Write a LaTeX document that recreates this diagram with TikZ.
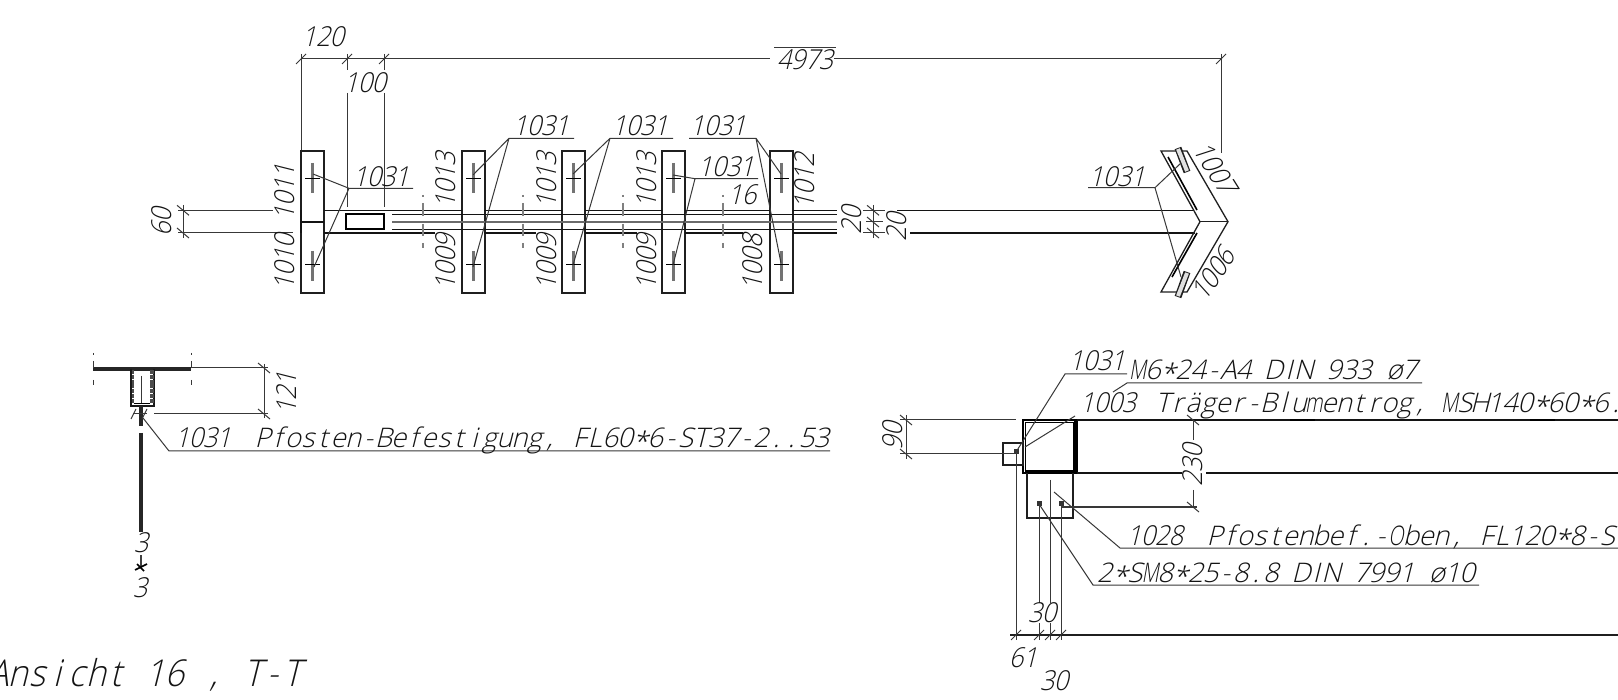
\documentclass[tikz,border=0pt]{standalone}
\usepackage{graphicx}
\usepackage{fontspec}
\newfontfamily\cad{Open Sans Light}[FakeSlant=0.25,FakeStretch=0.92]
\newfontfamily\cadw{Open Sans Light}[FakeSlant=0.25,FakeStretch=1.02]
\makeatletter
\newcommand\mon[2]{\@tfor\mych:=#2\do{\makebox[#1]{\mych}}}
\makeatother
\newcommand\st{\raisebox{-4pt}{*}}
\newcommand\nM{\scalebox{0.72}[1]{M}}
\newcommand\nO{\scalebox{0.72}[1]{O}}
\newcommand\nm{\scalebox{0.72}[1]{m}}
\newcommand\dg[1]{\mon{13.9pt}{#1}}
\newcommand\lt[1]{\mon{15.1pt}{#1}}
\tikzset{
  thin line/.style={line width=1pt,draw=black!78},
  beam line/.style={line width=1.3pt,draw=black!92},
  heavy line/.style={line width=2.6pt,draw=black!92},
  breakmark/.style={line width=2.6pt,draw=black!50},
  slotbar/.style={line width=3.4pt,draw=black!55},
  txt/.style={inner sep=0pt,text=black!92,font=\cad\fontsize{27.5}{27.5}\selectfont},
  longtxt/.style={inner sep=0pt,anchor=base west,text=black!92,font=\cadw\fontsize{27}{27}\selectfont},
  bigtxt/.style={inner sep=0pt,anchor=base west,text=black!92,font=\cad\fontsize{37}{37}\selectfont},
}
\newcommand\tkh[2]{\draw[thin line] (#1-5,#2+5)--(#1+5,#2-5);}
\newcommand\tkv[2]{\draw[thin line] (#1-6,#2-5)--(#1+6,#2+5);}
\begin{document}
\begin{tikzpicture}[x=1pt,y=-1pt]
\useasboundingbox (0,0) rectangle (1618,700);
\fill[white] (0,0) rectangle (1618,700);

%% ---- top dimension chain
\draw[thin line] (301,59)--(770,59) (834,59)--(1221,59);
\draw[thin line] (774,47.5)--(836,47.5);
\tkh{301}{59}\tkh{347}{59}\tkh{384}{59}\tkh{1221}{59}
\draw[thin line] (301,54)--(301,151);
\draw[thin line] (347,54)--(347,70) (347,93)--(347,207);
\draw[thin line] (384,54)--(384,70) (384,93)--(384,207);
\draw[thin line] (1221,54)--(1221,153);
\node[txt] (d120) at (323,37) {\dg{120}};
\node[txt] (d100) at (365,83) {\dg{100}};
\node[txt] (d4973) at (805,60) {\dg{4973}};

%% ---- plates
\foreach \px in {301,462,562,662,770}{
  \draw[line width=1.3pt,draw=black!88] (\px,151) rectangle (\px+23,293);
  \draw[heavy line] (\px,222)--(\px+23,222);
  \draw[slotbar] (\px+11.5,163)--(\px+11.5,193);
  \draw[slotbar] (\px+11.5,251)--(\px+11.5,281);
  \draw[thin line,draw=black] (\px+4,179)--(\px+19,179) (\px+4,265)--(\px+19,265);
}
\draw[heavy line] (301,210)--(301,233);

%% ---- beam
\foreach \a/\b in {324/462,484/562,585/662,685/770,793/837}{
  \draw[beam line] (\a,210.3)--(\b,210.3);
}
\foreach \a/\b in {324/435,484/536,585/637,685/743,793/837}{
  \draw[beam line] (\a,233)--(\b,233);
}
\draw[beam line] (392,214.3)--(837,214.3) (392,229.3)--(837,229.3);
\draw[line width=1.2pt,draw=black!58] (392,222)--(837,222);
\draw[line width=1.8pt,draw=black] (346,214)rectangle(384,229.3);
\foreach \bx in {423,523,623,723}{
  \draw[breakmark] (\bx,195)--(\bx,197) (\bx,203)--(\bx,216) (\bx,224)--(\bx,236) (\bx,243)--(\bx,248);
}
%% ---- dim 60
\draw[thin line] (183,205)--(183,238);
\tkv{183}{210.3}\tkv{183}{233}
\draw[thin line] (178,210.3)--(273,210.3) (178,233)--(293,233);
\node[txt,rotate=90] (d60) at (162,222) {\dg{60}};
%% ---- dim 20/20
\node[txt,rotate=90] (d20a) at (852,220) {\dg{20}};
\node[txt,rotate=90] (d20b) at (897,227) {\dg{20}};
\draw[thin line] (873,205)--(873,238);
\tkv{873}{210.3}\tkv{873}{222}\tkv{873}{233}
\draw[thin line] (863,210.3)--(885,210.3) (863,233)--(885,233) (866,222)--(883,222);
\draw[beam line] (897,210.3)--(1193,210.3) (910,233)--(1195,233);

%% ---- plate labels
\node[txt,rotate=90] (p1011) at (285,192) {\dg{1011}};
\node[txt,rotate=90] (p1010) at (285,262) {\dg{1010}};
\foreach \lx in {446,547,647}{
  \node[txt,rotate=90] at (\lx,180) {\dg{1013}};
  \node[txt,rotate=90] at (\lx,262) {\dg{1009}};
}
\node[txt,rotate=90] (p1008) at (753,262) {\dg{1008}};
\node[txt,rotate=90] (p1012) at (805,181) {\dg{1012}};
\node[txt] (n16) at (742,195) {\dg{16}};

%% ---- 1031 leaders, top view
\draw[thin line] (413,188.3)--(349,188.3)--(313,174) (349,188.3)--(314,267);
\node[txt] (a1) at (381,177) {\dg{1031}};
\draw[thin line] (574,138.3)--(509,138.3)--(473,175) (509,138.3)--(473,267);
\node[txt] (a2) at (541,126) {\dg{1031}};
\draw[thin line] (673,138.3)--(610,138.3)--(573,174) (610,138.3)--(573,265);
\node[txt] (a3) at (640,126) {\dg{1031}};
\draw[thin line] (689,138.3)--(756,138.3)--(781,174) (756,138.3)--(781,263);
\node[txt] (a4) at (718,126) {\dg{1031}};
\draw[thin line] (758,178.7)--(695,178.7)--(673,175) (695,178.7)--(673,265);
\node[txt] (a5) at (726,167) {\dg{1031}};

%% ---- corner (right end of top view)
\draw[line width=1.3pt,draw=black!88] (1161,151)--(1187,151)--(1228,221.7)--(1187,292)--(1161,292)--(1200,221.7)--cycle;
\draw[line width=1.3pt,draw=black!88] (1200,221.7)--(1228,221.7);
\draw[line width=1.6pt,draw=black] (1168,157)--(1197,210) (1197,233)--(1172,277);
\draw[line width=7pt,draw=black!88] (1178,148)--(1187,172);
\draw[line width=4pt,draw=black!12] (1178,149)--(1187,171);
\draw[line width=7pt,draw=black!88] (1187,272)--(1178,297);
\draw[line width=4pt,draw=black!12] (1187,273)--(1178,296);
\draw[thin line] (1088,187.7)--(1155,187.7)--(1181,163) (1155,187.7)--(1181,277);
\node[txt] (a6) at (1117,177) {\dg{1031}};
\node[txt,rotate=-58] (p1007) at (1215,168) {\dg{1007}};
\node[txt,rotate=56] (p1006) at (1213,274) {\dg{1006}};

%% ---- left section
\draw[line width=3.4pt,draw=black!85] (93,369)--(191,369);
\foreach \mx in {93,191}{
  \draw[thin line] (\mx,353)--(\mx,355) (\mx,361)--(\mx,368) (\mx,380)--(\mx,385);
}
\draw[line width=1.3pt,draw=black!90] (131,369)--(131,406)--(154,406)--(154,369);
\draw[line width=2.8pt,draw=black!70,dash pattern=on 4pt off 0.8pt] (133,370)--(133,403);
\draw[line width=3.2pt,draw=black!70,dash pattern=on 4pt off 0.8pt] (152,370)--(152,403);
\draw[line width=1.8pt,draw=black] (134,403.5)--(150,403.5);
\draw[thin line] (141,376)--(141,403);
\draw[line width=3.6pt,draw=black!85] (141,406)--(141,426) (141,433)--(141,532);
\draw[thin line] (133,414)--(147,414);
\draw[thin line] (136,409)--(131,419) (147,409)--(142,419);
\draw[thin line] (191,368)--(268,368) (154,414)--(268,414) (264,364)--(264,418);
\tkv{264}{368}\tkv{264}{414}
\node[txt,rotate=90] (d121) at (287,393) {\dg{121}};
\draw[line width=2pt,draw=black!75] (141,555)--(141,566);
\draw[line width=1.6pt,draw=black] (135,570)--(147,564);
\draw[line width=1.6pt,draw=black] (137,564)--(144,571);
\node[txt] (d3a) at (141,543) {\dg{3}};
\node[txt] (d3b) at (140,588) {\dg{3}};
\draw[thin line] (143,418)--(169,451)--(830,451);
\node[txt,anchor=base west] (t1a) at (175,448) {\dg{1031}};
\node[longtxt] (t1b) at (255,448) {\lt{Pfosten-Befestigung,~FL60\st6-ST37-2..53}};

%% ---- right section
\draw[line width=2.2pt,draw=black] (1023,420) rectangle (1077,473);
\draw[line width=1.8pt,draw=black] (1025.5,422.5) rectangle (1073.5,471);
\draw[line width=2.6pt,draw=black] (1075,420)--(1075,473);
\draw[line width=1.2pt,draw=black!88] (1003,443) rectangle (1023,465);
\draw[line width=1.2pt,draw=black!88] (1027,473)--(1027,518)--(1073,518)--(1073,473);
\draw[beam line] (1077,420)--(1618,420);
\draw[beam line] (1077,473)--(1182,473) (1206,473)--(1618,473);
\draw[line width=2pt,draw=black] (1290,420)--(1315,420) (1530,420)--(1555,420);
%% dim 90
\draw[thin line] (906,415)--(906,459);
\tkv{906}{420}\tkv{906}{454}
\draw[thin line] (900,420)--(1016,420) (900,454)--(1016,454);
\node[txt,rotate=90] (d90) at (893,436) {\dg{90}};
%% bolts
\foreach \bx/\by in {1016/452,1039/504,1061/504}{
  \fill[black!80] (\bx-2.5,\by-2.5) rectangle (\bx+2.5,\by+2.5);
}
%% verticals and lower dim
\draw[thin line] (1016,452)--(1016,640);
\draw[thin line] (1039,504)--(1039,603) (1039,623)--(1039,640);
\draw[thin line] (1050,480)--(1050,603) (1050,623)--(1050,640);
\draw[thin line] (1061,504)--(1061,640);
\draw[line width=1.1pt,draw=black!88] (1010,635)--(1618,635);
\tkh{1016}{635}\tkh{1039}{635}\tkh{1050}{635}\tkh{1061}{635}
\node[txt] (d30a) at (1042,613) {\dg{30}};
\node[txt] (d61) at (1023,658) {\dg{61}};
\node[txt] (d30b) at (1054,681) {\dg{30}};
%% dim 230
\draw[thin line] (1193,420)--(1193,440) (1193,490)--(1193,507);
\tkv{1193}{420}\tkv{1193}{507}
\draw[thin line] (1062,507)--(1197,507);
\node[txt,rotate=90] (d230) at (1193,465) {\dg{230}};
%% leaders
\draw[thin line] (1016,452)--(1065,374)--(1127,374);
\node[txt,anchor=base west] (n1031) at (1069,371) {\dg{1031}};
\draw[thin line] (1025,447)--(1075,416) (1113,392)--(1127,383)--(1422,383);
\node[longtxt] (t2) at (1130,380) {\lt{\nM6\st24-A4~DIN~933~ø7}};
\node[txt,anchor=base west] (n1003) at (1080,413) {\dg{1003}};
\node[longtxt] (t3) at (1155,413) {\lt{Träger-Blu\nm entrog,~\nM SH140\st60\st6.}};
\draw[thin line] (1054,492)--(1120,548)--(1618,548);
\node[txt,anchor=base west] (n1028) at (1127,545) {\dg{1028}};
\node[longtxt] (t4) at (1207,545) {\lt{Pfostenbef.-\nO ben,~FL120\st8-S}};
\draw[thin line] (1039,504)--(1093,585)--(1479,585);
\node[longtxt] (t5) at (1097,582) {\lt{2\st S\nM8\st25-8.8~DIN~7991~ø10}};

%% ---- title
\node[bigtxt] (title) at (-12,686) {\mon{19.6pt}{Ansicht~16~,~T-T}};
\end{tikzpicture}
\end{document}
